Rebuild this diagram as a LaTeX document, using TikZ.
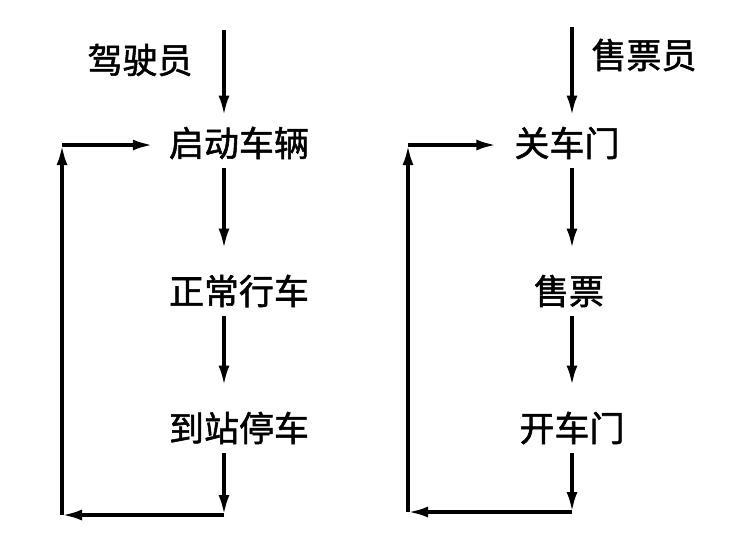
\documentclass[tikz,border=0pt]{standalone}
\usepackage{fontspec}
\newfontfamily\cjk[FakeBold=1.5]{Noto Sans CJK SC}
\usetikzlibrary{arrows.meta}
\begin{document}
\begin{tikzpicture}[x=1pt,y=-1pt,
  lbl/.style={font=\cjk\fontsize{35}{37}\selectfont, inner sep=0pt},
  arr/.style={line width=3.5pt, -{Latex[length=20pt,width=11pt]}}]
\fill[white] (0,0) rectangle (734,550);
\useasboundingbox (0,0) rectangle (734,550);
% left column
\node[lbl] (l0) at (140,60) {驾驶员};
\node[lbl] (l1) at (239,143) {启动车辆};
\node[lbl] (l2) at (239,291) {正常行车};
\node[lbl] (l3) at (239,428) {到站停车};
\coordinate (ltop) at (224,30);
\coordinate (lc1) at (224,515);
\coordinate (lc2) at (62,515);
\coordinate (lc3) at (62,145);
\coordinate (l1n) at ([yshift=11pt]l1.north);
\coordinate (l1s) at ([yshift=-9pt]l1.south);
\coordinate (l2n) at ([yshift=26pt]l2.north);
\coordinate (l2s) at ([yshift=-9pt]l2.south);
\coordinate (l3n) at ([yshift=26pt]l3.north);
\coordinate (l3s) at ([yshift=-9pt]l3.south);
\coordinate (l1w) at ([xshift=-16pt]l1.west);
\draw[arr] (ltop) -- (ltop |- l1n);
\draw[arr] (ltop |- l1s) -- (ltop |- l2n);
\draw[arr] (ltop |- l2s) -- (ltop |- l3n);
\draw[arr] (ltop |- l3s) -- (lc1);
\draw[arr] (lc1) -- (lc2);
\draw[arr] (lc2) -- (lc3);
\draw[arr] (lc3) -- (lc3 -| l1w);
% right column
\node[lbl] (r0) at (644,55) {售票员};
\node[lbl] (r1) at (567,143) {关车门};
\node[lbl] (r2) at (569,291) {售票};
\node[lbl] (r3) at (572,428) {开车门};
\coordinate (rtop) at (572,27);
\coordinate (rc1) at (572,512);
\coordinate (rc2) at (408,512);
\coordinate (rc3) at (408,145);
\coordinate (r1n) at ([yshift=11pt]r1.north);
\coordinate (r1s) at ([yshift=-9pt]r1.south);
\coordinate (r2n) at ([yshift=26pt]r2.north);
\coordinate (r2s) at ([yshift=-9pt]r2.south);
\coordinate (r3n) at ([yshift=26pt]r3.north);
\coordinate (r3s) at ([yshift=-9pt]r3.south);
\coordinate (r1w) at ([xshift=-18pt]r1.west);
\draw[arr] (rtop) -- (rtop |- r1n);
\draw[arr] (rtop |- r1s) -- (rtop |- r2n);
\draw[arr] (rtop |- r2s) -- (rtop |- r3n);
\draw[arr] (rtop |- r3s) -- (rc1);
\draw[arr] (rc1) -- (rc2);
\draw[arr] (rc2) -- (rc3);
\draw[arr] (rc3) -- (rc3 -| r1w);
\end{tikzpicture}
\end{document}
